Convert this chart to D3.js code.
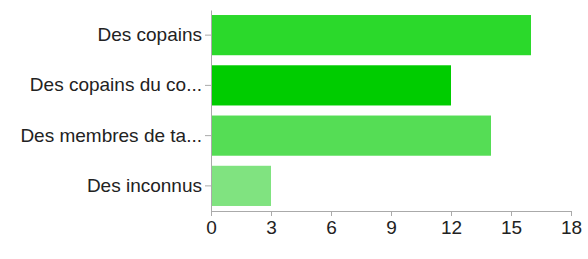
<!DOCTYPE html>
<html>
<head>
<meta charset="utf-8">
<script src="https://cdn.jsdelivr.net/npm/d3@7"></script>
<style>
  body { margin: 0; background: #fff; }
  svg { display: block; }
</style>
</head>
<body>
<svg id="chart" width="588" height="259"></svg>
<script>
const categories = ["Des copains", "Des copains du co...", "Des membres de ta...", "Des inconnus"];
const values = [16, 12, 14, 3];
const barColors = ["#2bd92b", "#00cc00", "#55dd55", "#80e380"];
const xTicks = [0, 3, 6, 9, 12, 15, 18];

const svg = d3.select("#chart");
const mLeft = 211, mRight = 571, mTop = 10, mBottom = 211;

const x = d3.scaleLinear().domain([0, 18]).range([mLeft, mRight]);
const y = d3.scaleBand().domain(categories).range([mTop, mBottom]).paddingInner(0.2).paddingOuter(0.1);

svg.selectAll("rect.bar")
  .data(categories)
  .join("rect")
  .attr("class", "bar")
  .attr("x", x(0))
  .attr("y", d => y(d))
  .attr("width", (d, i) => x(values[i]) - x(0))
  .attr("height", y.bandwidth())
  .attr("fill", (d, i) => barColors[i]);

const font = "'Liberation Sans', Arial, sans-serif";

const yAxis = svg.append("g")
  .attr("transform", `translate(${mLeft},0)`)
  .call(d3.axisLeft(y).tickSize(6).tickSizeOuter(0).tickPadding(3));
yAxis.select(".domain").attr("stroke", "#aaa");
yAxis.selectAll(".tick line").attr("stroke", "#aaa");
yAxis.selectAll(".tick text")
  .attr("font-family", font).attr("font-size", 19).attr("fill", "#222");

const xAxis = svg.append("g")
  .attr("transform", `translate(0,${mBottom})`)
  .call(d3.axisBottom(x).tickValues(xTicks).tickSize(5).tickSizeOuter(0).tickPadding(5));
xAxis.select(".domain").attr("stroke", "#aaa");
xAxis.selectAll(".tick line").attr("stroke", "#aaa");
xAxis.selectAll(".tick text")
  .attr("font-family", font).attr("font-size", 19).attr("fill", "#222");
</script>
</body>
</html>
